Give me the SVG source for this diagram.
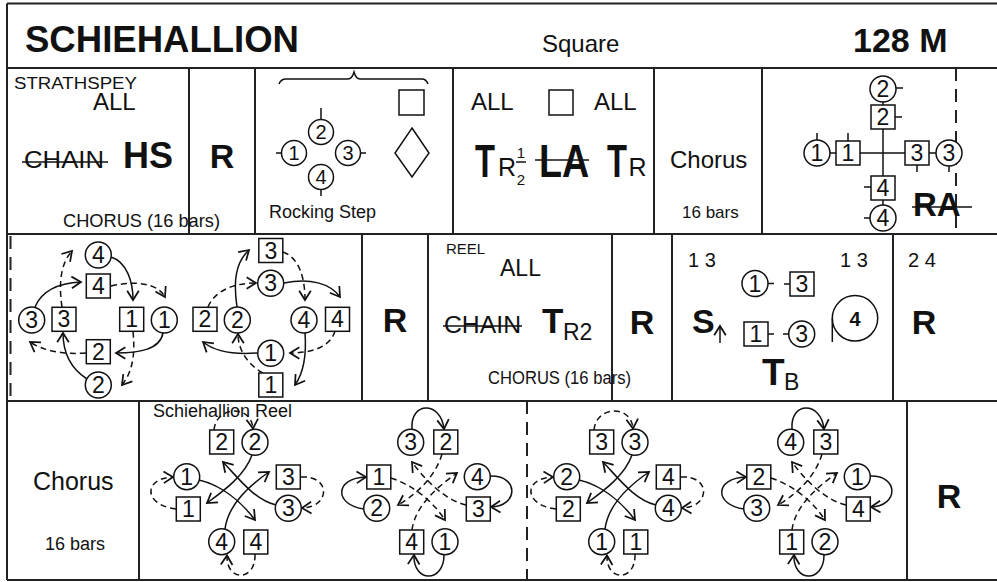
<svg xmlns="http://www.w3.org/2000/svg" width="997" height="582" viewBox="0 0 997 582">
<style>
.g{stroke:#222;stroke-width:2;fill:none}
.gd{stroke:#222;stroke-width:2;fill:none;stroke-dasharray:13 8}
.c{fill:#fff;stroke:#111;stroke-width:1.5}
.k{stroke:#111;stroke-width:1.5;fill:none}
.n{font-family:"Liberation Sans",Arial,sans-serif;font-size:23px;text-anchor:middle;fill:#111}
.n2{font-family:"Liberation Sans",Arial,sans-serif;font-size:20px;text-anchor:middle;fill:#111}
.t{font-family:"Liberation Sans",Arial,sans-serif;fill:#111}
.b{font-weight:bold}
.m{text-anchor:middle}
.a{fill:none;stroke:#111;stroke-width:1.5;marker-end:url(#ah)}
.d{stroke-dasharray:6 4}
</style>
<defs>
<marker id="ah" markerUnits="userSpaceOnUse" markerWidth="14" markerHeight="14" refX="10" refY="6" orient="auto" viewBox="0 0 12 12" overflow="visible"><path d="M2,1 L10,6 L2,11" fill="none" stroke="#111" stroke-width="1.5" stroke-dasharray="none"/></marker>
</defs>
<rect width="997" height="582" fill="#fff"/>

<g id="grid">
<path class="g" d="M7,3.5 H1000 M7,3.5 V580 M7,580 H1000 M7,68 H1000 M7,234 H1000 M7,401 H1000"/>
<path class="g" d="M189,68 V234 M255,68 V234 M453,68 V234 M654,68 V234 M762,68 V234"/>
<path class="gd" d="M956,68 V234"/>
<path class="g" d="M362,234 V401 M428,234 V401 M612,234 V401 M672,234 V401 M893,234 V401"/>
<path class="gd" d="M10.5,236 V401"/>
<path class="g" d="M139,401 V580 M907,401 V580"/>
<path class="gd" d="M527,401 V580"/>
</g>

<g id="header">
<text class="t b" x="25" y="52" font-size="36" textLength="274" lengthAdjust="spacingAndGlyphs">SCHIEHALLION</text>
<text class="t" x="542" y="52" font-size="24">Square</text>
<text class="t b" x="853" y="52" font-size="34">128 M</text>
</g>

<g id="cell-strathspey">
<text class="t" x="14" y="89" font-size="16" textLength="123" lengthAdjust="spacingAndGlyphs">STRATHSPEY</text>
<text class="t" x="93" y="110" font-size="24">ALL</text>
<text class="t" x="24" y="168" font-size="24" textLength="80" lengthAdjust="spacingAndGlyphs">CHAIN</text>
<line class="k" x1="22" y1="162" x2="108" y2="162"/>
<text class="t b" x="123" y="168" font-size="36">HS</text>
<text class="t" x="63" y="227" font-size="19" textLength="157" lengthAdjust="spacingAndGlyphs">CHORUS (16 bars)</text>
</g>
<g id="cell-r1"><text class="t b m" x="222" y="168" font-size="34">R</text></g>

<g id="cell-rocking">
<path class="k" d="M279,84 Q281,79 286,79 L348,79 Q352,79 354,72 Q356,79 360,79 L422,79 Q426,79 428,84"/>
<rect class="c" x="399" y="90" width="25" height="25"/>
<path class="c" d="M412,128 L429,153 L412,177 L395,153 Z"/>
<path class="k" d="M321,108 V119.5 M276,153 H281.5 M360.5,153 H366 M321,189.5 V196"/>
<g id="rs2"><circle class="c" cx="321" cy="132" r="12.5"/><text class="n2" x="321" y="139">2</text></g>
<g id="rs1"><circle class="c" cx="294" cy="153" r="12.5"/><text class="n2" x="294" y="160">1</text></g>
<g id="rs3"><circle class="c" cx="348" cy="153" r="12.5"/><text class="n2" x="348" y="160">3</text></g>
<g id="rs4"><circle class="c" cx="321" cy="177" r="12.5"/><text class="n2" x="321" y="184">4</text></g>
<text class="t" x="269" y="218" font-size="18">Rocking Step</text>
</g>

<g id="cell-turns">
<text class="t" x="471" y="110" font-size="24">ALL</text>
<rect class="c" x="549" y="90" width="24" height="25"/>
<text class="t" x="594" y="110" font-size="24">ALL</text>
<text class="t b" transform="translate(475,177) scale(0.71,1)" font-size="46">T</text>
<text class="t" x="498" y="176" font-size="25">R</text>
<text class="t" x="521" y="158" font-size="15" text-anchor="middle">1</text>
<line class="k" x1="516" y1="162" x2="526" y2="162" stroke-width="1"/>
<text class="t" x="521" y="185" font-size="15" text-anchor="middle">2</text>
<text class="t b" transform="translate(539,177) scale(0.82,1)" font-size="46">LA</text>
<line class="k" x1="535" y1="160" x2="589" y2="160" stroke-width="2"/>
<text class="t b" transform="translate(607,177) scale(0.71,1)" font-size="46">T</text>
<text class="t" x="628.5" y="176" font-size="25">R</text>
</g>

<g id="cell-chorus1">
<text class="t" x="670" y="168" font-size="24">Chorus</text>
<text class="t" x="682" y="218" font-size="17">16 bars</text>
</g>

<g id="cell-cross">
<path class="k" d="M883,101 V206 M829,153 H937"/>
<path class="k" d="M896,88 H903 M895,117 H902 M817,133 V140 M848,133 V141 M917,165 V172 M949,166 V172 M864,187 H871 M864,218 H870"/>
<g id="x-c2"><circle class="c" cx="883" cy="89" r="13"/><text class="n" x="883" y="97">2</text></g>
<g id="x-s2"><rect class="c" x="871" y="105" width="24" height="24"/><text class="n" x="883" y="125">2</text></g>
<g id="x-c1"><circle class="c" cx="817" cy="153" r="13"/><text class="n" x="817" y="161">1</text></g>
<g id="x-s1"><rect class="c" x="836" y="141" width="24" height="24"/><text class="n" x="848" y="161">1</text></g>
<g id="x-s3"><rect class="c" x="905" y="141" width="24" height="24"/><text class="n" x="917" y="161">3</text></g>
<g id="x-c3"><circle class="c" cx="949" cy="153" r="13"/><text class="n" x="949" y="161">3</text></g>
<g id="x-s4"><rect class="c" x="871" y="176" width="24" height="24"/><text class="n" x="883" y="196">4</text></g>
<g id="x-c4"><circle class="c" cx="883" cy="218" r="13"/><text class="n" x="883" y="226">4</text></g>
<text class="t b" x="913" y="216" font-size="33">RA</text>
<line class="k" x1="912" y1="207" x2="972" y2="207" stroke-width="2"/>
</g>

<g id="connectors">
<!-- fig A -->
<path class="a" d="M111,257 C127,262 133,282 133,300"/>
<path class="a d" d="M111,286 C138,280 158,284 165,297"/>
<path class="a" d="M35,307 C42,290 60,283 81,282"/>
<path class="a d" d="M62,307 C58,280 62,262 72,251"/>
<path class="a" d="M163,333 C160,350 138,353 116,353"/>
<path class="a d" d="M133,331.5 C136,360 130,375 122,385"/>
<path class="a d" d="M86,353 C62,355 42,350 30,342"/>
<path class="a" d="M87,379 C70,368 63,352 63,333"/>
<!-- fig B -->
<path class="a" d="M237,307 C233,280 236,262 249,250"/>
<path class="a d" d="M208,307 C215,290 235,283 256,283"/>
<path class="a d" d="M283,252 C300,258 305,280 305,300"/>
<path class="a" d="M284,283 C310,278 330,283 340,297"/>
<path class="a d" d="M335,331 C330,348 310,353 290,353"/>
<path class="a" d="M305,333 C307,360 302,375 295,385"/>
<path class="a" d="M257,353 C230,355 213,350 203,342"/>
<path class="a d" d="M263,373 C248,365 238,350 238,334"/>
<!-- fig C -->
<path class="a d" d="M214,430 C216,406 251,404 253,428.5"/>
<path class="a" d="M252,455 C245,475 225,490 207,503"/>
<path class="a" d="M276,505 C255,500 240,480 223,462"/>
<path class="a" d="M199,480 C220,485 240,500 255,520"/>
<path class="a" d="M225,529 C228,505 250,485 269,472"/>
<path class="a d" d="M176,509 C143,505 143,478 173,477"/>
<path class="a d" d="M300.7,477 C331,475 331,507 302,508"/>
<path class="a d" d="M255,554 C256,582 226,582 227,555.5"/>
<!-- fig D -->
<path class="a" d="M412,429 C410,401 441,401 444,429"/>
<path class="a d" d="M442,454 C435,478 415,495 398,505"/>
<path class="a d" d="M466,505 C445,500 425,480 412,462"/>
<path class="a d" d="M391,478 C412,485 432,500 445,520"/>
<path class="a d" d="M412,530 C415,505 440,485 457,473"/>
<path class="a" d="M364,509 C334,505 334,478 366,477"/>
<path class="a" d="M490,476 C519,475 519,506 491,507"/>
<path class="a" d="M444,555 C444,583 413,583 414,555"/>
<!-- fig E (C + 380) -->
<g transform="translate(380,0)">
<path class="a d" d="M214,430 C216,406 251,404 253,428.5"/>
<path class="a" d="M252,455 C245,475 225,490 207,503"/>
<path class="a" d="M276,505 C255,500 240,480 223,462"/>
<path class="a" d="M199,480 C220,485 240,500 255,520"/>
<path class="a" d="M225,529 C228,505 250,485 269,472"/>
<path class="a d" d="M176,509 C143,505 143,478 173,477"/>
<path class="a d" d="M300.7,477 C331,475 331,507 302,508"/>
<path class="a d" d="M255,554 C256,582 226,582 227,555.5"/>
</g>
<!-- fig F (D + 380) -->
<g transform="translate(380,0)">
<path class="a" d="M412,429 C410,401 441,401 444,429"/>
<path class="a d" d="M442,454 C435,478 415,495 398,505"/>
<path class="a d" d="M466,505 C445,500 425,480 412,462"/>
<path class="a d" d="M391,478 C412,485 432,500 445,520"/>
<path class="a d" d="M412,530 C415,505 440,485 457,473"/>
<path class="a" d="M364,509 C334,505 334,478 366,477"/>
<path class="a" d="M490,476 C519,475 519,506 491,507"/>
<path class="a" d="M444,555 C444,583 413,583 414,555"/>
</g>
<!-- setting arrow -->
<path class="a" d="M720,343 V326"/>
</g>

<g id="figA">
<g id="a-c4"><circle class="c" cx="98.3" cy="255" r="13"/><text class="n" x="98.3" y="263">4</text></g>
<g id="a-s4"><rect class="c" x="86.3" y="274" width="24" height="24"/><text class="n" x="98.3" y="294">4</text></g>
<g id="a-c3"><circle class="c" cx="31.7" cy="320" r="13"/><text class="n" x="31.7" y="328">3</text></g>
<g id="a-s3"><rect class="c" x="52" y="307.3" width="24" height="24"/><text class="n" x="64" y="327.3">3</text></g>
<g id="a-s1"><rect class="c" x="119.7" y="307.3" width="24" height="24"/><text class="n" x="131.7" y="327.3">1</text></g>
<g id="a-c1"><circle class="c" cx="164.3" cy="320" r="13"/><text class="n" x="164.3" y="328">1</text></g>
<g id="a-s2"><rect class="c" x="86.3" y="339.7" width="24" height="24"/><text class="n" x="98.3" y="359.7">2</text></g>
<g id="a-c2"><circle class="c" cx="98.3" cy="385" r="13"/><text class="n" x="98.3" y="393">2</text></g>
</g>

<g id="figB">
<g id="b-s3"><rect class="c" x="258.8" y="238.5" width="24" height="24"/><text class="n" x="270.8" y="258.5">3</text></g>
<g id="b-c3"><circle class="c" cx="270.7" cy="283.3" r="13"/><text class="n" x="270.7" y="291.3">3</text></g>
<g id="b-s2"><rect class="c" x="193" y="307.3" width="24" height="24"/><text class="n" x="205" y="327.3">2</text></g>
<g id="b-c2"><circle class="c" cx="237.3" cy="320" r="13"/><text class="n" x="237.3" y="328">2</text></g>
<g id="b-c4"><circle class="c" cx="304" cy="320" r="13"/><text class="n" x="304" y="328">4</text></g>
<g id="b-s4"><rect class="c" x="325.5" y="307.3" width="24" height="24"/><text class="n" x="337.5" y="327.3">4</text></g>
<g id="b-c1"><circle class="c" cx="270.7" cy="353.3" r="13"/><text class="n" x="270.7" y="361.3">1</text></g>
<g id="b-s1"><rect class="c" x="258.8" y="373" width="24" height="24"/><text class="n" x="270.8" y="393">1</text></g>
</g>

<g id="cell-r2"><text class="t b m" x="395" y="332" font-size="34">R</text></g>

<g id="cell-reel">
<text class="t" x="446" y="254" font-size="15">REEL</text>
<text class="t" x="500" y="276" font-size="23">ALL</text>
<text class="t" x="444" y="333" font-size="23" textLength="77" lengthAdjust="spacingAndGlyphs">CHAIN</text>
<line class="k" x1="443" y1="326" x2="522" y2="326"/>
<text class="t b" x="542" y="333" font-size="35">T</text>
<text class="t" x="563" y="340" font-size="23">R2</text>
<text class="t" x="488" y="384" font-size="17.5" textLength="143" lengthAdjust="spacingAndGlyphs">CHORUS (16 bars)</text>
</g>
<g id="cell-r3"><text class="t b m" x="642" y="334" font-size="34">R</text></g>

<g id="cell-set">
<text class="t" x="688" y="267" font-size="20">1 3</text>
<text class="t" x="840" y="267" font-size="20">1 3</text>
<text class="t b" x="692" y="333" font-size="34">S</text>
<path class="k" d="M768,283.5 H774 M784,284 H790 M768,334 H774 M783,334 H789"/>
<g id="s-c1"><circle class="c" cx="755" cy="283.5" r="13"/><text class="n" x="755" y="291.5">1</text></g>
<g id="s-s3"><rect class="c" x="790" y="272" width="24" height="24"/><text class="n" x="802" y="292">3</text></g>
<g id="s-s1"><rect class="c" x="744" y="322" width="24" height="24"/><text class="n" x="756" y="342">1</text></g>
<g id="s-c3"><circle class="c" cx="801.7" cy="334" r="13"/><text class="n" x="801.7" y="342">3</text></g>
<g id="s-c4">
<circle class="c" cx="855" cy="318.3" r="22.7"/>
<line class="k" x1="832.3" y1="318.3" x2="832.3" y2="342"/>
<text class="t b m" x="855" y="325.5" font-size="20">4</text>
</g>
<text class="t b" x="762" y="385" font-size="37">T</text>
<text class="t" x="784" y="390" font-size="23">B</text>
</g>

<g id="cell-r4">
<text class="t" x="908" y="267" font-size="20">2 4</text>
<text class="t b m" x="924" y="334" font-size="34">R</text>
</g>

<g id="cell-chorus2">
<text class="t" x="33" y="490" font-size="25">Chorus</text>
<text class="t" x="45" y="550" font-size="18">16 bars</text>
</g>

<text class="t" x="153" y="417" font-size="18">Schiehallion Reel</text>

<g id="figC">
<g id="c-s2"><rect class="c" x="209.7" y="430" width="24" height="24"/><text class="n" x="221.7" y="450">2</text></g>
<g id="c-c2"><circle class="c" cx="255" cy="442.3" r="13"/><text class="n" x="255" y="450.3">2</text></g>
<g id="c-c1"><circle class="c" cx="186.7" cy="476.7" r="13"/><text class="n" x="186.7" y="484.7">1</text></g>
<g id="c-s1"><rect class="c" x="176.3" y="497" width="24" height="24"/><text class="n" x="188.3" y="517">1</text></g>
<g id="c-s3"><rect class="c" x="276.3" y="465" width="24" height="24"/><text class="n" x="288.3" y="485">3</text></g>
<g id="c-c3"><circle class="c" cx="288.3" cy="508.3" r="13"/><text class="n" x="288.3" y="516.3">3</text></g>
<g id="c-c4"><circle class="c" cx="221.7" cy="541.7" r="13"/><text class="n" x="221.7" y="549.7">4</text></g>
<g id="c-s4"><rect class="c" x="243.8" y="530" width="24" height="24"/><text class="n" x="255.8" y="550">4</text></g>
</g>

<g id="figD">
<g id="d-c3"><circle class="c" cx="410.7" cy="442.3" r="13"/><text class="n" x="410.7" y="450.3">3</text></g>
<g id="d-s2"><rect class="c" x="433.8" y="430" width="24" height="24"/><text class="n" x="445.8" y="450">2</text></g>
<g id="d-s1"><rect class="c" x="366.8" y="465" width="24" height="24"/><text class="n" x="378.8" y="485">1</text></g>
<g id="d-c2"><circle class="c" cx="376.7" cy="508.3" r="13"/><text class="n" x="376.7" y="516.3">2</text></g>
<g id="d-c4"><circle class="c" cx="477.3" cy="476.7" r="13"/><text class="n" x="477.3" y="484.7">4</text></g>
<g id="d-s3"><rect class="c" x="466.3" y="497" width="24" height="24"/><text class="n" x="478.3" y="517">3</text></g>
<g id="d-s4"><rect class="c" x="399.7" y="530" width="24" height="24"/><text class="n" x="411.7" y="550">4</text></g>
<g id="d-c1"><circle class="c" cx="445" cy="541.7" r="13"/><text class="n" x="445" y="549.7">1</text></g>
</g>

<g id="figE" transform="translate(380,0)">
<g id="e-s3"><rect class="c" x="209.7" y="430" width="24" height="24"/><text class="n" x="221.7" y="450">3</text></g>
<g id="e-c3"><circle class="c" cx="255" cy="442.3" r="13"/><text class="n" x="255" y="450.3">3</text></g>
<g id="e-c2"><circle class="c" cx="186.7" cy="476.7" r="13"/><text class="n" x="186.7" y="484.7">2</text></g>
<g id="e-s2"><rect class="c" x="176.3" y="497" width="24" height="24"/><text class="n" x="188.3" y="517">2</text></g>
<g id="e-s4"><rect class="c" x="276.3" y="465" width="24" height="24"/><text class="n" x="288.3" y="485">4</text></g>
<g id="e-c4"><circle class="c" cx="288.3" cy="508.3" r="13"/><text class="n" x="288.3" y="516.3">4</text></g>
<g id="e-c1"><circle class="c" cx="221.7" cy="541.7" r="13"/><text class="n" x="221.7" y="549.7">1</text></g>
<g id="e-s1"><rect class="c" x="243.8" y="530" width="24" height="24"/><text class="n" x="255.8" y="550">1</text></g>
</g>

<g id="figF" transform="translate(380,0)">
<g id="f-c4"><circle class="c" cx="410.7" cy="442.3" r="13"/><text class="n" x="410.7" y="450.3">4</text></g>
<g id="f-s3"><rect class="c" x="433.8" y="430" width="24" height="24"/><text class="n" x="445.8" y="450">3</text></g>
<g id="f-s2"><rect class="c" x="366.8" y="465" width="24" height="24"/><text class="n" x="378.8" y="485">2</text></g>
<g id="f-c3"><circle class="c" cx="376.7" cy="508.3" r="13"/><text class="n" x="376.7" y="516.3">3</text></g>
<g id="f-c1"><circle class="c" cx="477.3" cy="476.7" r="13"/><text class="n" x="477.3" y="484.7">1</text></g>
<g id="f-s4"><rect class="c" x="466.3" y="497" width="24" height="24"/><text class="n" x="478.3" y="517">4</text></g>
<g id="f-s1"><rect class="c" x="399.7" y="530" width="24" height="24"/><text class="n" x="411.7" y="550">1</text></g>
<g id="f-c2"><circle class="c" cx="445" cy="541.7" r="13"/><text class="n" x="445" y="549.7">2</text></g>
</g>

<g id="cell-r5"><text class="t b m" x="949" y="508" font-size="34">R</text></g>
</svg>
